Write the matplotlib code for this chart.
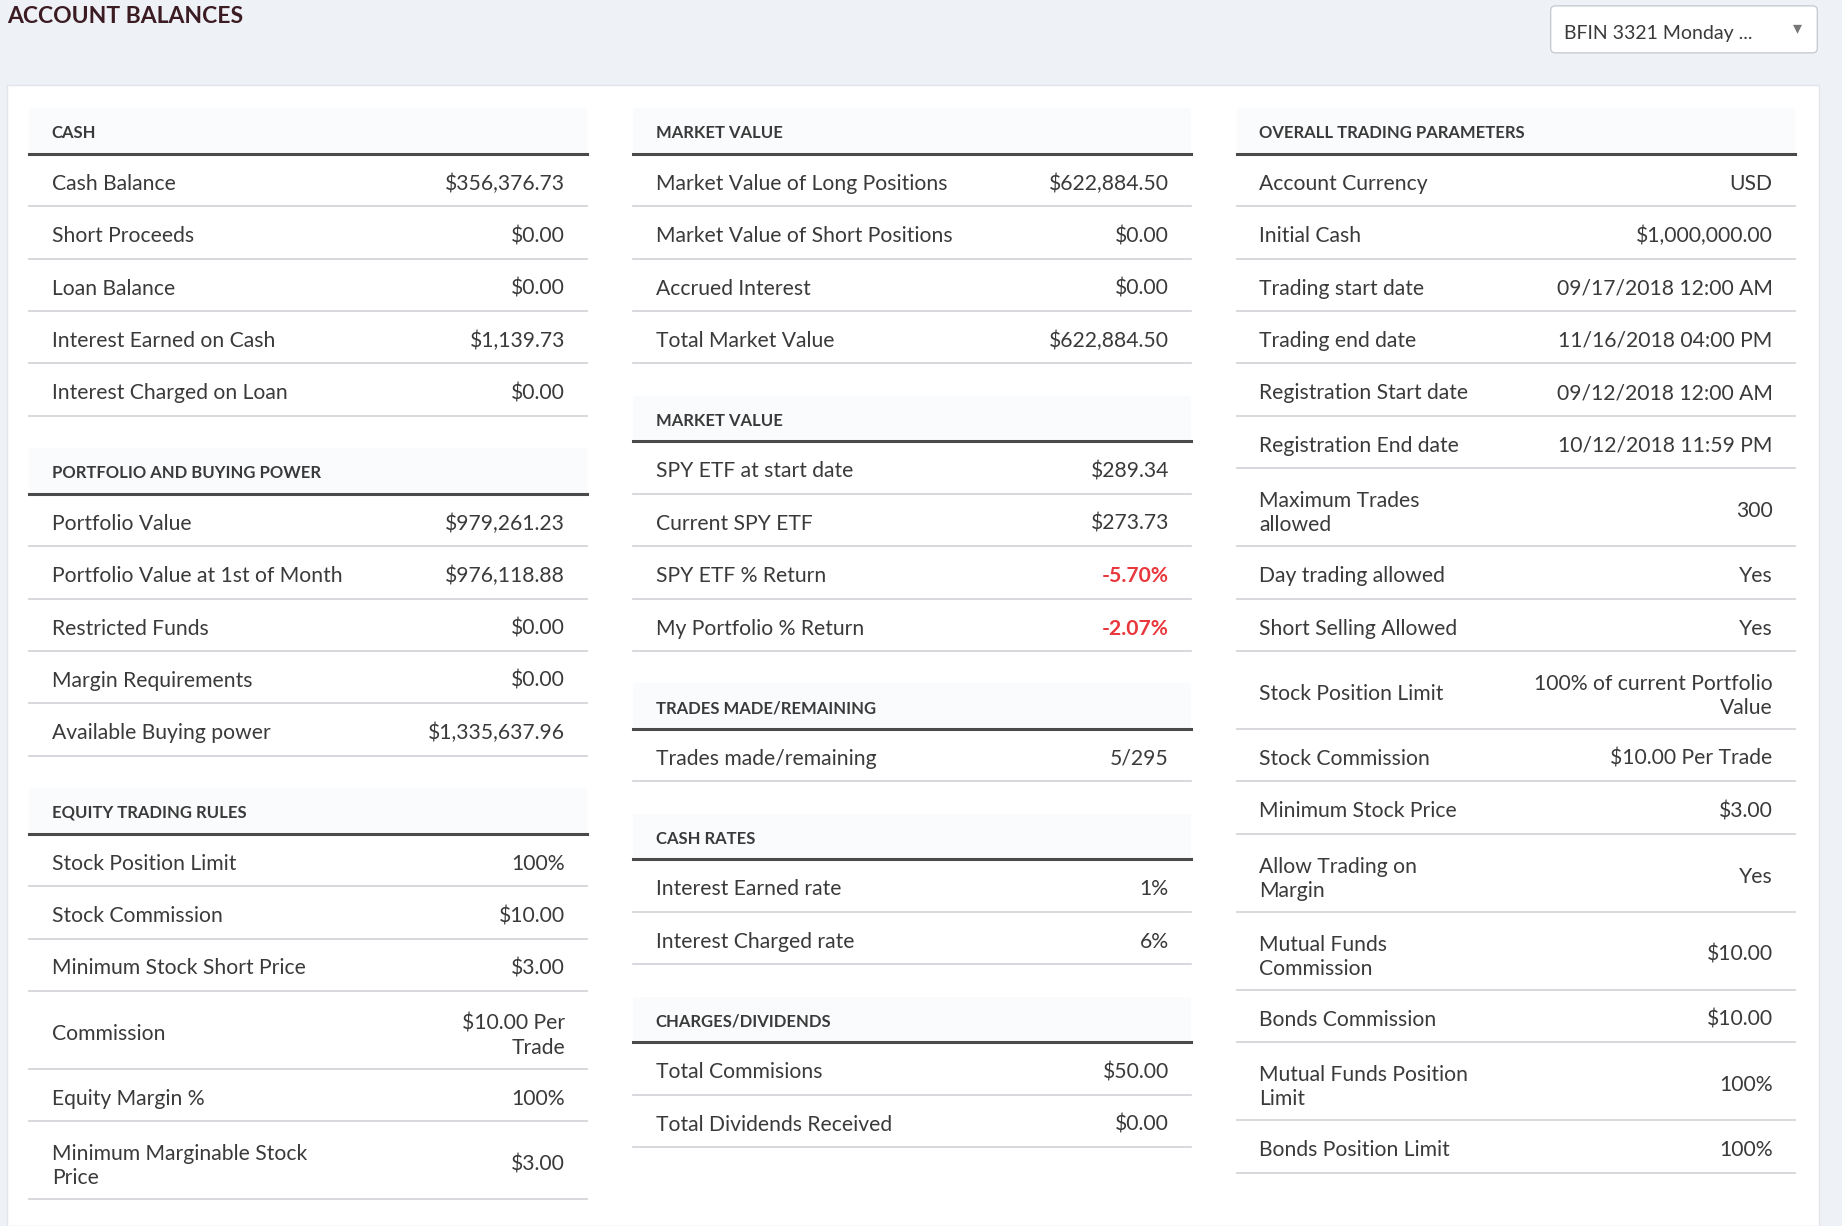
import matplotlib.pyplot as plt
from matplotlib.patches import Rectangle, FancyBboxPatch

plt.rcParams['font.family'] = ['Lato', 'DejaVu Sans']

W, H = 1568, 1044
TEXT = '#3a3a3a'
RED = '#e8383d'

# column 1
cash_labels = ["Cash Balance", "Short Proceeds", "Loan Balance", "Interest Earned on Cash", "Interest Charged on Loan"]
cash_values = ["$356,376.73", "$0.00", "$0.00", "$1,139.73", "$0.00"]
portfolio_labels = ["Portfolio Value", "Portfolio Value at 1st of Month", "Restricted Funds",
                    "Margin Requirements", "Available Buying power"]
portfolio_values = ["$979,261.23", "$976,118.88", "$0.00", "$0.00", "$1,335,637.96"]
equity_labels = ["Stock Position Limit", "Stock Commission", "Minimum Stock Short Price", "Commission",
                 "Equity Margin %", "Minimum Marginable Stock\nPrice"]
equity_values = ["100%", "$10.00", "$3.00", "$10.00 Per\nTrade", "100%", "$3.00"]

# column 2
market_labels = ["Market Value of Long Positions", "Market Value of Short Positions", "Accrued Interest",
                 "Total Market Value"]
market_values = ["$622,884.50", "$0.00", "$0.00", "$622,884.50"]
spy_labels = ["SPY ETF at start date", "Current SPY ETF", "SPY ETF % Return", "My Portfolio % Return"]
spy_values = ["$289.34", "$273.73", "-5.70%", "-2.07%"]
trades_labels = ["Trades made/remaining"]
trades_values = ["5/295"]
rates_labels = ["Interest Earned rate", "Interest Charged rate"]
rates_values = ["1%", "6%"]
charges_labels = ["Total Commisions", "Total Dividends Received"]
charges_values = ["$50.00", "$0.00"]

# column 3
params_labels = ["Account Currency", "Initial Cash", "Trading start date", "Trading end date",
                 "Registration Start date", "Registration End date", "Maximum Trades\nallowed",
                 "Day trading allowed", "Short Selling Allowed", "Stock Position Limit",
                 "Stock Commission", "Minimum Stock Price", "Allow Trading on\nMargin",
                 "Mutual Funds\nCommission", "Bonds Commission", "Mutual Funds Position\nLimit",
                 "Bonds Position Limit"]
params_values = ["USD", "$1,000,000.00", "09/17/2018 12:00 AM", "11/16/2018 04:00 PM",
                 "09/12/2018 12:00 AM", "10/12/2018 11:59 PM", "300", "Yes", "Yes",
                 "100% of current Portfolio\nValue", "$10.00 Per Trade", "$3.00", "Yes", "$10.00",
                 "$10.00", "100%", "100%"]

columns = [
    (25, [("CASH", cash_labels, cash_values),
          ("PORTFOLIO AND BUYING POWER", portfolio_labels, portfolio_values),
          ("EQUITY TRADING RULES", equity_labels, equity_values)]),
    (539, [("MARKET VALUE", market_labels, market_values),
           ("MARKET VALUE", spy_labels, spy_values),
           ("TRADES MADE/REMAINING", trades_labels, trades_values),
           ("CASH RATES", rates_labels, rates_values),
           ("CHARGES/DIVIDENDS", charges_labels, charges_values)]),
    (1053, [("OVERALL TRADING PARAMETERS", params_labels, params_values)]),
]
COL_W = 475

fig = plt.figure(figsize=(18.42, 12.26), dpi=100)
fig.patch.set_facecolor('#eef1f6')
ax = fig.add_axes([0, 0, 1, 1])
ax.set_xlim(0, W)
ax.set_ylim(H, 0)
ax.axis('off')

ax.text(6, 14, "ACCOUNT BALANCES", fontsize=16.5, fontweight='bold', color='#3b1c22', va='center')
ax.add_patch(FancyBboxPatch((1320, 5), 227, 40, boxstyle="round,pad=0,rounding_size=4",
                            facecolor='white', edgecolor='#c8ccd2', lw=1))
ax.text(1331, 27, "BFIN 3321 Monday ...", fontsize=14, color=TEXT, va='center_baseline')
ax.text(1530, 24, "\u25BE", fontsize=13, color='#777777', va='center', ha='center')
ax.add_patch(Rectangle((6, 72), 1542, H - 72, facecolor='white', edgecolor='#e2e5ea', lw=1))

fs = 15.2
for x0, sections in columns:
    y = 92
    for title, labels, values in sections:
        ax.add_patch(Rectangle((x0, y), COL_W, 39, facecolor='#fafbfc', edgecolor='none'))
        ax.text(x0 + 19, y + 20, title, fontsize=12, fontweight='bold', color=TEXT, va='center_baseline')
        y += 39
        ax.plot([x0, x0 + COL_W], [y, y], color='#4a4a4a', lw=2.2)
        for lab, val in zip(labels, values):
            h = 66.5 if ('\n' in lab or '\n' in val) else 44.6
            col = RED if val.startswith('-') else TEXT
            ax.text(x0 + 19, y + h / 2 + 1.5, lab, fontsize=fs, color=TEXT, va='center_baseline',
                    linespacing=1.25)
            ax.text(x0 + COL_W - 19, y + h / 2 + 1.5, val, fontsize=fs, color=col, va='center_baseline',
                    ha='right', linespacing=1.25, fontweight='bold' if col == RED else 'normal',
                    multialignment='right')
            y += h
            ax.plot([x0, x0 + COL_W], [y, y], color='#cfd2d6', lw=1.2)
        y += 27.5

fig.savefig('out.png', dpi=100, facecolor=fig.get_facecolor())
